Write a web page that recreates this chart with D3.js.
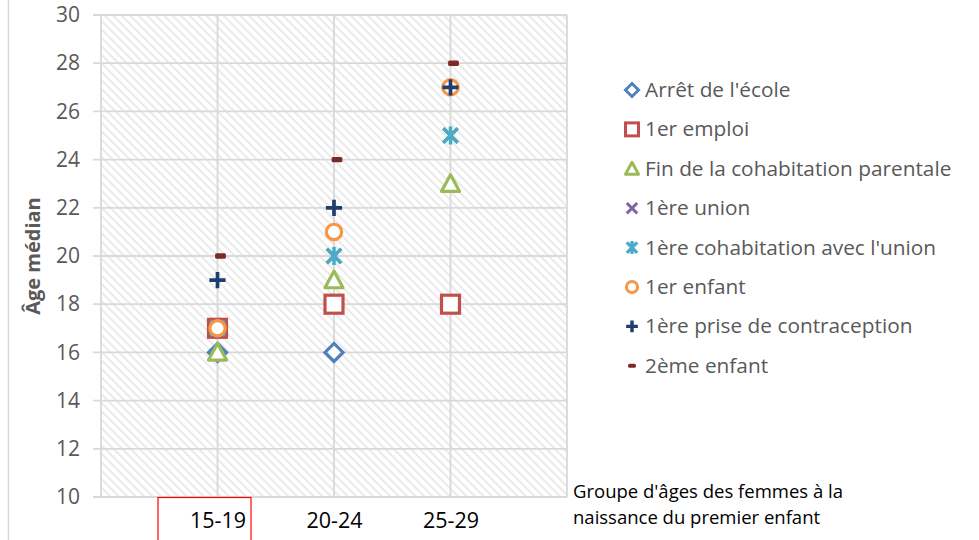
<!DOCTYPE html>
<html><head><meta charset="utf-8">
<script src="https://cdn.jsdelivr.net/npm/d3@7"></script>
<style>body{margin:0;background:#fff}svg{display:block}text{font-family:"Open Sans",sans-serif}</style>
</head><body><svg id="c" width="979" height="540"></svg>
<script>
const categories = ["15-19","20-24","25-29"];
const seriesNames = ["Arrêt de l'école","1er emploi","Fin de la cohabitation parentale","1ère union","1ère cohabitation avec l'union","1er enfant","1ère prise de contraception","2ème enfant"];
const arretEcole = [16,16,null];
const premierEmploi = [17,18,18];
const finCohabParentale = [16,19,23];
const premiereUnion = [17,20,25];
const premiereCohabUnion = [17,20,25];
const premierEnfant = [17,21,27];
const contraception = [19,22,27];
const deuxiemeEnfant = [20,24,28];
const yTicks = [10,12,14,16,18,20,22,24,26,28,30];
const seriesValues = [arretEcole,premierEmploi,finCohabParentale,premiereUnion,premiereCohabUnion,premierEnfant,contraception,deuxiemeEnfant];
const colors = ["#4f81bd","#c0504d","#9bbb59","#8064a2","#4bacc6","#f79646","#1f3d6e","#7a2b29"];
const shapes = ["diamond","square","triangle","x","star","circle","plus","dash"];

const svg = d3.select("#c");
const x = d3.scaleLinear().domain([0,4]).range([101,567]);
const y = d3.scaleLinear().domain([10,30]).range([497,15]);

const defs = svg.append("defs");
const pat = defs.append("pattern").attr("id","hatch").attr("patternUnits","userSpaceOnUse")
  .attr("width",6).attr("height",6).attr("patternTransform","rotate(-45)");
pat.append("rect").attr("width",6).attr("height",6).attr("fill","#fff");
pat.append("line").attr("x1",3).attr("y1",0).attr("x2",3).attr("y2",6).attr("stroke","#e8e8e8").attr("stroke-width",1.8);

svg.append("line").attr("x1",8.5).attr("x2",8.5).attr("y1",0).attr("y2",540).attr("stroke","#d9d9d9").attr("stroke-width",1.5);

svg.append("rect").attr("x",x(0)).attr("y",y(30)).attr("width",x(4)-x(0)).attr("height",y(10)-y(30)).attr("fill","url(#hatch)");

const grid = svg.append("g").attr("stroke","#d9d9d9").attr("stroke-width",1.8);
yTicks.forEach(t=>grid.append("line").attr("x1",93).attr("x2",x(4)).attr("y1",y(t)).attr("y2",y(t)));
[0,1,2,3,4].forEach(t=>grid.append("line").attr("x1",x(t)).attr("x2",x(t)).attr("y1",y(30)).attr("y2",y(10)));

const yAxis = d3.axisLeft(y).tickValues(yTicks).tickSize(0).tickPadding(0);
const ga = svg.append("g").attr("transform","translate(80,0)").call(yAxis);
ga.select(".domain").remove();
ga.selectAll("text").attr("font-size",21).attr("fill","#595959").attr("font-family","'Open Sans',sans-serif");

const xAxis = d3.axisBottom(x).tickValues([1,2,3]).tickFormat(d=>categories[d-1]).tickSize(0).tickPadding(0);
const gx = svg.append("g").attr("transform","translate(0,513)").call(xAxis);
gx.select(".domain").remove();
gx.selectAll("text").attr("font-size",21.5).attr("fill","#000").attr("font-family","'Open Sans',sans-serif");

svg.append("rect").attr("x",158).attr("y",497.5).attr("width",93).attr("height",50).attr("fill","none").attr("stroke","#ff0000").attr("stroke-width",1.2);

svg.append("text").attr("transform","translate(40,256) rotate(-90)").attr("text-anchor","middle")
  .attr("font-size",20).attr("font-weight","bold").attr("fill","#595959").text("Âge médian");
svg.append("text").attr("x",573).attr("y",498).attr("font-size",18.5).attr("fill","#000").text("Groupe d'âges des femmes à la");
svg.append("text").attr("x",573).attr("y",524).attr("font-size",18.5).attr("fill","#000").text("naissance du premier enfant");

function marker(g, shape, color, s, sw){
  const h = s/2;
  switch(shape){
    case "diamond": g.append("path").attr("d",`M0,${-h}L${h},0L0,${h}L${-h},0Z`).attr("fill","#fff").attr("stroke",color).attr("stroke-width",sw); break;
    case "square": g.append("rect").attr("x",-h).attr("y",-h).attr("width",s).attr("height",s).attr("fill","#fff").attr("stroke",color).attr("stroke-width",sw); break;
    case "triangle": g.append("path").attr("d",`M0,${-h}L${h},${h*0.85}L${-h},${h*0.85}Z`).attr("fill","#fff").attr("stroke",color).attr("stroke-width",sw).attr("stroke-linejoin","round"); break;
    case "circle": g.append("circle").attr("r",h*0.85).attr("fill","#fff").attr("stroke",color).attr("stroke-width",sw); break;
    case "x": g.append("path").attr("d",`M${-h*0.8},${-h*0.8}L${h*0.8},${h*0.8}M${h*0.8},${-h*0.8}L${-h*0.8},${h*0.8}`).attr("stroke",color).attr("stroke-width",sw); break;
    case "star": g.append("path").attr("d",`M${-h*0.8},${-h*0.8}L${h*0.8},${h*0.8}M${h*0.8},${-h*0.8}L${-h*0.8},${h*0.8}M0,${-h}L0,${h}`).attr("stroke",color).attr("stroke-width",sw*1.1); break;
    case "plus": g.append("path").attr("d",`M${-h*0.9},0L${h*0.9},0M0,${-h*0.9}L0,${h*0.9}`).attr("stroke",color).attr("stroke-width",sw*1.15); break;
    case "dash": g.append("rect").attr("x",-h*0.6).attr("y",-h*0.3).attr("width",s*0.6).attr("height",s*0.3).attr("rx",1.5).attr("fill",color); break;
  }
}

const pts = svg.append("g");
seriesValues.forEach((vals,si)=>{
  vals.forEach((v,ci)=>{
    if(v==null) return;
    const g = pts.append("g").attr("transform",`translate(${x(ci+1) + (shapes[si]==="dash"?3:0)},${y(v)})`);
    marker(g, shapes[si], colors[si], 18, 3.2);
  });
});

const lg = svg.append("g");
seriesNames.forEach((n,i)=>{
  const yy = 90 + i*39.4;
  const g = lg.append("g").attr("transform",`translate(632,${yy})`);
  marker(g, shapes[i], colors[i], 13, 3);
  lg.append("text").attr("x",645).attr("y",yy+7).attr("font-size",20.8).attr("fill","#595959").text(n);
});
</script></body></html>
